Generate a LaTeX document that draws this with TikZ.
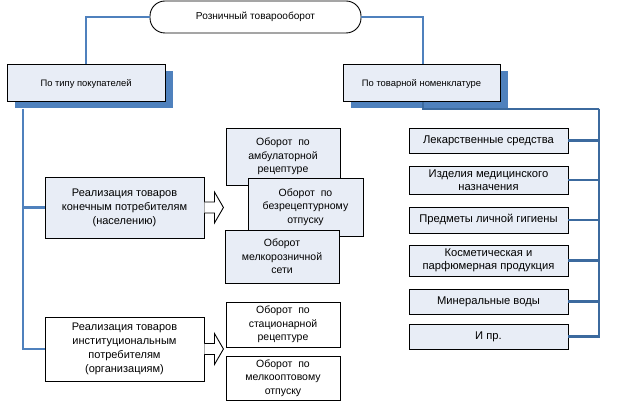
\documentclass[tikz,border=0pt]{standalone}
\usepackage{fontspec}
\setmainfont{Liberation Sans}
\usetikzlibrary{positioning,shadows}
\definecolor{lineblue}{HTML}{4F81BD}
\definecolor{darkline}{HTML}{3C6A9E}
\definecolor{paleblue}{HTML}{E8EDF6}
\tikzset{
  box/.style={rectangle, draw=black, line width=0.9pt, align=center, inner sep=1pt,
    font=\fontsize{10.5}{13.5}\selectfont},
  pale/.style={box, fill=paleblue},
  plain/.style={box, fill=white},
  catbox/.style={pale, line width=1pt, minimum width=158pt, minimum height=37pt,
    font=\fontsize{9.4}{12}\selectfont,
    drop shadow={shadow xshift=8pt, shadow yshift=-6pt, fill=lineblue, opacity=1}},
  sidebox/.style={minimum width=159pt, font=\fontsize{11}{14}\selectfont},
  midbox/.style={minimum width=114pt},
  listbox/.style={pale, minimum width=159pt, font=\fontsize{11.2}{12.5}\selectfont},
  link/.style={lineblue, line width=2.5pt},
  rlink/.style={darkline, line width=2.5pt},
  blockarr/.style={draw=black, line width=0.9pt, fill=white, line join=miter}
}
\begin{document}
\begin{tikzpicture}[x=1pt, y=-1pt]
    \useasboundingbox (0,0) rectangle (624,403);
    \node[box, fill=white, rounded corners=15pt, minimum width=211pt, minimum height=32pt,
        font=\fontsize{10.1}{12}\selectfont] (root) at (255.5,17) {Розничный товарооборот};

    % categories
    \node[catbox] (buyers) at (86,83.5) {По типу покупателей};
    \node[catbox, minimum width=157pt] (goods) at (421.5,83.5) {По товарной номенклатуре};

    \draw[link] (root.west) -| (buyers.north);
    \draw[link] (root.east) -| (goods.north -| 423,0);

    % by buyer type
    \node[pale, sidebox, minimum height=61pt] (cons) at (124.5,207.5) {Реализация товаров\\конечным потребителям\\(населению)};
    \node[plain, sidebox, minimum height=64pt] (inst) at (124.5,349) {Реализация товаров\\институциональным\\потребителям\\(организациям)};

    \coordinate (ltrunk) at (23,109);
    \draw[link] (ltrunk) |- (cons.west);
    \draw[link] (ltrunk) |- (inst.west);

    \foreach \n in {cons,inst}
        \draw[blockarr] (\n.east) ++(0,5.5) -- ++(10,0) -- ++(0,10) -- ++(9,-15.5) -- ++(-9,-15.5) -- ++(0,10) -- ++(-10,0);

    \node[pale, midbox, minimum height=57pt] (amb) at (283,156.5) {Оборот \ по\\амбулаторной\\рецептуре};
    \node[pale, minimum width=115pt, minimum height=58pt] (otc) at (305.5,207) {Оборот \ по\\безрецептурному\\отпуску};
    \node[pale, midbox, minimum height=53pt] (small) at (282,256.5) {Оборот\\мелкорозничной\\сети};
    \node[plain, midbox, minimum height=45pt] (hosp) at (283,324.5) {Оборот \ по\\стационарной\\рецептуре};
    \node[plain, midbox, minimum height=44pt] (whole) at (283,378) {Оборот \ по\\мелкооптовому\\отпуску};

    % by goods
    \node[listbox, minimum height=25pt] (drugs) at (488.5,140.5) {Лекарственные средства};
    \node[listbox, minimum height=28pt] (med) at (488.5,180) {Изделия медицинского\\назначения};
    \node[listbox, minimum height=26pt] (hyg) at (488.5,220) {Предметы личной гигиены};
    \node[listbox, minimum height=31pt] (cosm) at (488.5,260.5) {Косметическая и\\парфюмерная продукция};
    \node[listbox, minimum height=25pt] (water) at (488.5,301.5) {Минеральные воды};
    \node[listbox, minimum height=25pt] (etc) at (488.5,336.5) {И пр.};

    \coordinate (rtrunk) at (599,109);
    \draw[rlink] (goods.south -| 423,0) |- (rtrunk);
    \foreach \n in {drugs,med,hyg,cosm,water,etc}
        \draw[rlink] (rtrunk) |- (\n.east);
\end{tikzpicture}
\end{document}
